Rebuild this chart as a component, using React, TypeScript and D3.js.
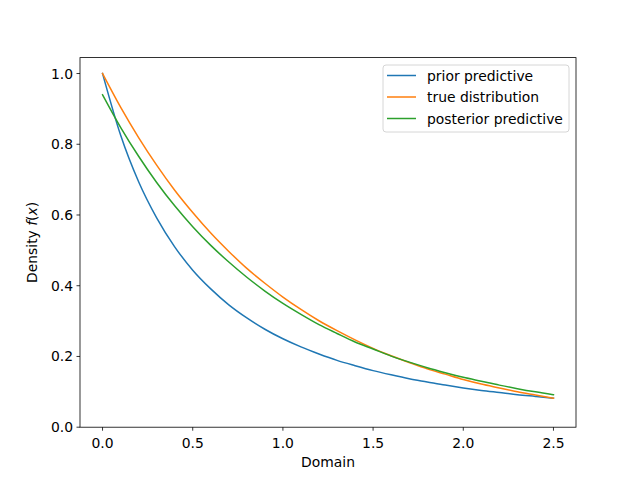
import * as d3 from 'd3'

// x grid the curves were read at
const xs = [0, 0.1, 0.2, 0.3, 0.4, 0.5, 0.6, 0.7, 0.8, 0.9, 1.0, 1.1, 1.2, 1.3, 1.4, 1.5, 1.6, 1.7, 1.8, 1.9, 2.0, 2.1, 2.2, 2.3, 2.4, 2.5]

const priorPredictive = [1.0, 0.826, 0.694, 0.592, 0.51, 0.444, 0.391, 0.346, 0.309, 0.277, 0.25, 0.227, 0.207, 0.189, 0.174, 0.16, 0.148, 0.137, 0.128, 0.119, 0.111, 0.104, 0.098, 0.092, 0.087, 0.082]
const trueDistribution = [1.0, 0.905, 0.819, 0.741, 0.67, 0.607, 0.549, 0.497, 0.449, 0.407, 0.368, 0.333, 0.301, 0.273, 0.247, 0.223, 0.202, 0.183, 0.165, 0.15, 0.135, 0.122, 0.111, 0.1, 0.091, 0.082]
const posteriorPredictive = [0.94, 0.848, 0.766, 0.692, 0.626, 0.567, 0.514, 0.467, 0.424, 0.385, 0.35, 0.319, 0.29, 0.265, 0.241, 0.221, 0.201, 0.184, 0.168, 0.154, 0.141, 0.13, 0.119, 0.109, 0.1, 0.092]

const series = [
  { name: 'prior predictive', values: priorPredictive, color: '#1f77b4' },
  { name: 'true distribution', values: trueDistribution, color: '#ff7f0e' },
  { name: 'posterior predictive', values: posteriorPredictive, color: '#2ca02c' },
]

const xTicks = [0, 0.5, 1.0, 1.5, 2.0, 2.5]
const yTicks = [0, 0.2, 0.4, 0.6, 0.8, 1.0]

const W = 640
const H = 480
const left = 80
const right = 576
const top = 57.6
const bottom = 427.2
const font = 'DejaVu Sans, sans-serif'

export default function App() {
  const x = d3.scaleLinear().domain([-0.125, 2.625]).range([left, right])
  const y = d3.scaleLinear().domain([0, 1.045]).range([bottom, top])

  const line = d3
    .line<number>()
    .x((_, i) => x(xs[i]))
    .y((d) => y(d))
    .curve(d3.curveMonotoneX)

  return (
    <svg
      width={W}
      height={H}
      style={{ position: 'fixed', left: 0, top: 0, background: '#fff' }}
      fontFamily={font}
    >
      <rect x={0} y={0} width={W} height={H} fill="#fff" />
      <g>
        {series.map((s) => (
          <path key={s.name} d={line(s.values) ?? ''} fill="none" stroke={s.color} strokeWidth={1.5} strokeLinecap="square" />
        ))}
      </g>
      <rect x={left} y={top} width={right - left} height={bottom - top} fill="none" stroke="#000" strokeWidth={0.8} />
      {xTicks.map((t) => (
        <g key={t} transform={`translate(${x(t)},${bottom})`}>
          <line y1={0} y2={3.5} stroke="#000" strokeWidth={0.8} />
          <text y={17} textAnchor="middle" fontSize={13.9} dominantBaseline="middle" fill="#000">
            {t.toFixed(1)}
          </text>
        </g>
      ))}
      {yTicks.map((t) => (
        <g key={t} transform={`translate(${left},${y(t)})`}>
          <line x1={0} x2={-3.5} stroke="#000" strokeWidth={0.8} />
          <text x={-7} textAnchor="end" fontSize={13.9} dominantBaseline="central" fill="#000">
            {t.toFixed(1)}
          </text>
        </g>
      ))}
      <text x={(left + right) / 2} y={467} textAnchor="middle" fontSize={13.9} fill="#000">
        Domain
      </text>
      <text transform={`translate(37,${(top + bottom) / 2}) rotate(-90)`} textAnchor="middle" fontSize={13.9} fill="#000">
        Density <tspan fontStyle="italic">f</tspan>(<tspan fontStyle="italic">x</tspan>)
      </text>
      <g>
        <rect x={383} y={65} width={186} height={67} rx={3} fill="#fff" fillOpacity={0.8} stroke="#ccc" strokeWidth={0.8} />
        {series.map((s, i) => (
          <g key={s.name} transform={`translate(0,${75.5 + i * 21.5})`}>
            <line x1={387} x2={416} stroke={s.color} strokeWidth={1.5} />
            <text x={427} fontSize={13.9} dominantBaseline="central" fill="#000">
              {s.name}
            </text>
          </g>
        ))}
      </g>
    </svg>
  )
}
